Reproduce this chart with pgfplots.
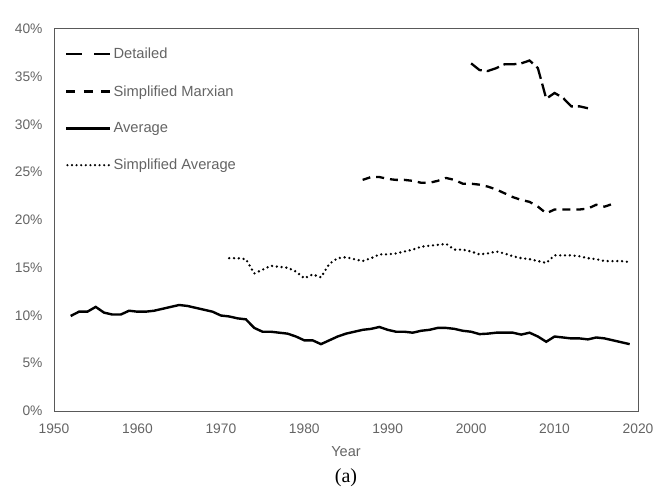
\documentclass[border=0pt]{standalone}
\usepackage{pgfplots}
\pgfplotsset{compat=1.18}
\usepackage{fontspec}
\setmainfont{Liberation Sans}
\newfontfamily\seriffont{Liberation Serif}
\definecolor{axgray}{RGB}{89,89,89}
\definecolor{txtgray}{RGB}{100,100,100}
\begin{document}
\begin{tikzpicture}
\begin{axis}[
  scale only axis, clip=false,
  width=584pt, height=382pt,
  xmin=1950, xmax=2020, ymin=0, ymax=40,
  xtick={1950,1960,...,2020},
  ytick={0,5,...,40},
  /pgf/number format/assume math mode=true,
  xticklabel style={/pgf/number format/1000 sep={}, font=\fontsize{13.8}{16}\selectfont, text=txtgray, yshift=-9pt},
  yticklabel={\pgfmathprintnumber{\tick}\%},
  yticklabel style={font=\fontsize{13.8}{16}\selectfont, text=txtgray, xshift=-8pt},
  major tick length=0pt,
  axis line style={axgray, line width=1pt},
  xlabel={Year},
  xlabel style={at={(axis description cs:0.5,0)}, anchor=center, yshift=-41pt, font=\fontsize{14.5}{17}\selectfont, text=txtgray},
  legend cell align=left,
  legend style={at={(0,1)}, anchor=north west, draw=none, fill=none,
    font=\fontsize{14.7}{17}\selectfont, text=txtgray, row sep=21pt,
    xshift=8pt, yshift=-15pt},
]
\addplot[black, line width=2.3pt, dash pattern=on 13pt off 5pt,
  legend image code/.code={\draw[black, line width=2.3pt, dash pattern=on 16pt off 12pt] (0pt,0pt) -- (44pt,0pt);}]
coordinates {
(2000,36.4)(2001,35.7)(2002,35.6)(2003,35.9)(2004,36.3)(2005,36.3)(2006,36.4)(2007,36.7)
(2008,35.9)(2009,32.7)(2010,33.3)(2011,32.8)(2012,31.9)(2013,31.9)(2014,31.7)};
\addlegendentry{Detailed}
\addplot[black, line width=2.3pt, dash pattern=on 8pt off 6pt,
  legend image code/.code={\draw[black, line width=2.3pt, dash pattern=on 9pt off 8.5pt] (0pt,0pt) -- (44pt,0pt);}]
coordinates {
(1987,24.2)(1988,24.5)(1989,24.5)(1990,24.3)(1991,24.2)(1992,24.2)(1993,24.1)(1994,23.9)
(1995,23.9)(1996,24.1)(1997,24.4)(1998,24.2)(1999,23.8)(2000,23.8)(2001,23.7)(2002,23.5)
(2003,23.2)(2004,22.8)(2005,22.4)(2006,22.1)(2007,21.9)(2008,21.4)(2009,20.7)(2010,21.1)
(2011,21.1)(2012,21.1)(2013,21.1)(2014,21.2)(2015,21.6)(2016,21.4)(2017,21.7)};
\addlegendentry{Simplified Marxian}
\addplot[black, line width=2.4pt,
  legend image code/.code={\draw[black, line width=2.4pt] (0pt,0pt) -- (44pt,0pt);}]
coordinates {
(1952,9.95)(1953,10.4)(1954,10.4)(1955,10.9)(1956,10.3)(1957,10.1)(1958,10.1)(1959,10.5)
(1960,10.4)(1961,10.4)(1962,10.5)(1963,10.7)(1964,10.9)(1965,11.1)(1966,11.0)(1967,10.8)
(1968,10.6)(1969,10.4)(1970,10.0)(1971,9.9)(1972,9.7)(1973,9.6)(1974,8.7)(1975,8.3)
(1976,8.3)(1977,8.2)(1978,8.1)(1979,7.8)(1980,7.4)(1981,7.4)(1982,7.0)(1983,7.4)
(1984,7.8)(1985,8.1)(1986,8.3)(1987,8.5)(1988,8.6)(1989,8.8)(1990,8.5)(1991,8.3)
(1992,8.3)(1993,8.2)(1994,8.4)(1995,8.5)(1996,8.7)(1997,8.7)(1998,8.6)(1999,8.4)
(2000,8.3)(2001,8.05)(2002,8.1)(2003,8.2)(2004,8.2)(2005,8.2)(2006,8.0)(2007,8.2)
(2008,7.8)(2009,7.25)(2010,7.8)(2011,7.7)(2012,7.6)(2013,7.6)(2014,7.5)(2015,7.7)
(2016,7.6)(2017,7.4)(2018,7.2)(2019,7.0)};
\addlegendentry{Average}
\addplot[black, line width=2.6pt, line cap=round, dash pattern=on 0pt off 4.8pt,
  legend image code/.code={\draw[black, line width=2.4pt, line cap=round, dash pattern=on 0pt off 4.6pt] (1pt,0pt) -- (44pt,0pt);}]
coordinates {
(1971,16.0)(1972,16.0)(1973,15.9)(1974,14.4)(1975,14.8)(1976,15.2)(1977,15.1)(1978,15.0)
(1979,14.6)(1980,13.9)(1981,14.3)(1982,14.0)(1983,15.4)(1984,16.0)(1985,16.1)(1986,15.9)
(1987,15.7)(1988,16.0)(1989,16.4)(1990,16.4)(1991,16.5)(1992,16.7)(1993,16.9)(1994,17.2)
(1995,17.3)(1996,17.4)(1997,17.5)(1998,16.9)(1999,16.9)(2000,16.7)(2001,16.4)(2002,16.5)
(2003,16.7)(2004,16.5)(2005,16.2)(2006,16.0)(2007,15.9)(2008,15.7)(2009,15.5)(2010,16.3)
(2011,16.3)(2012,16.3)(2013,16.2)(2014,16.0)(2015,15.9)(2016,15.7)(2017,15.7)(2018,15.7)
(2019,15.6)};
\addlegendentry{Simplified Average}
\node[font=\seriffont\fontsize{20}{24}\selectfont, text=black] at (rel axis cs:0.5,0) [yshift=-67pt] {(a)};
\end{axis}
\pgfresetboundingbox
\path[use as bounding box] ([xshift=-54pt,yshift=-88pt]current axis.south west) rectangle ([xshift=23pt,yshift=29pt]current axis.north east);
\end{tikzpicture}
\end{document}
